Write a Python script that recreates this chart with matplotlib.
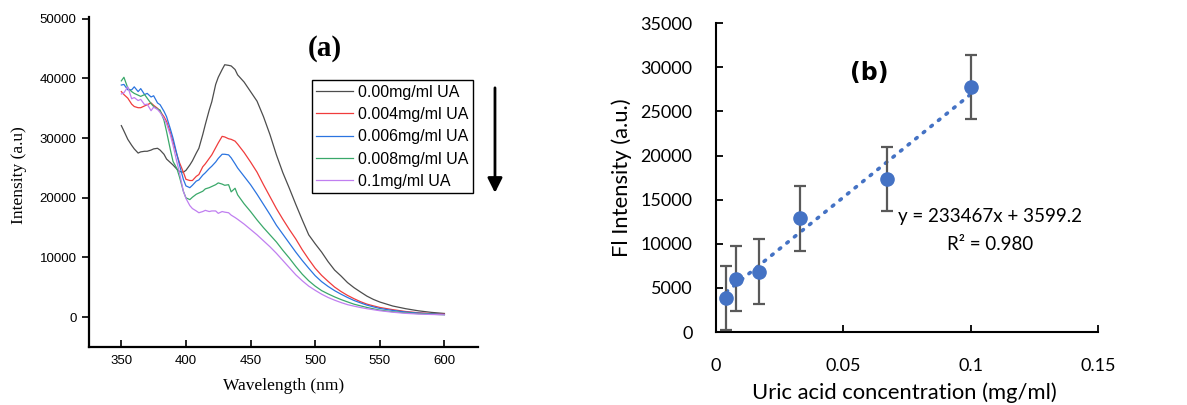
import numpy as np
import matplotlib
matplotlib.use("Agg")
import matplotlib.pyplot as plt

# ---- panel (a): emission spectra ----
wavelength = [350, 352, 355, 358, 360, 363, 365, 368, 370, 373, 375, 378, 380, 383, 385, 388,
              390, 393, 395, 398, 400, 403, 405, 408, 410, 413, 415, 418, 420, 423, 425, 428,
              430, 433, 435, 438, 440, 445, 450, 455, 460, 465, 470, 475, 480, 485, 490, 495,
              500, 505, 510, 515, 520, 525, 530, 535, 540, 545, 550, 560, 570, 580, 590, 600]

ua_000 = [32100, 31200, 29800, 28800, 28200, 27500, 27700, 27800, 27800, 28000, 28200, 28300,
          28000, 27300, 26500, 25900, 25500, 24800, 24400, 24300, 24600, 25500, 26200, 27500,
          28300, 30600, 32300, 34700, 36100, 39000, 40200, 41500, 42300, 42200, 42100, 41500,
          40600, 39400, 37800, 36200, 33600, 30600, 27200, 24200, 21600, 18900, 16300, 13800,
          12300, 10900, 9300, 7900, 6900, 5800, 4950, 4230, 3530, 2980, 2540, 1870, 1420,
          1060, 800, 620]
ua_004 = [37800, 37300, 36700, 35700, 35300, 35100, 35100, 35400, 35600, 35900, 35500, 35000,
          34500, 33600, 32800, 30900, 29400, 27200, 25900, 24300, 23100, 22900, 22900, 23600,
          23900, 25200, 25700, 26600, 27200, 28400, 29200, 30300, 30200, 29900, 29800, 29500,
          29000, 27600, 26000, 24300, 22200, 20200, 18200, 16400, 14700, 13100, 11300, 9700,
          8200, 7000, 6000, 5050, 4300, 3650, 3100, 2600, 2190, 1900, 1630, 1260, 950,
          740, 600, 510]
ua_006 = [38900, 39000, 38100, 38100, 38600, 37800, 38300, 37300, 37500, 36900, 37100, 35900,
          35600, 34500, 33600, 31500, 30000, 27300, 25500, 23100, 22000, 21700, 22100, 22800,
          23000, 23800, 24200, 24900, 25300, 26000, 26600, 27300, 27300, 27200, 26700, 25700,
          25000, 23600, 22200, 20600, 18900, 17200, 15400, 13900, 12400, 10900, 9500, 8200,
          6950, 5950, 5150, 4450, 3850, 3300, 2800, 2400, 2020, 1730, 1460, 1130, 870,
          680, 560, 460]
ua_008 = [39600, 40200, 38400, 37800, 37500, 37200, 37000, 37300, 36700, 35800, 35300, 34900,
          34700, 33000, 31100, 28000, 26100, 24900, 23500, 21100, 20000, 19700, 20100, 20600,
          20800, 21100, 21500, 21700, 21900, 22200, 22500, 22300, 22100, 22200, 21000, 21600,
          20500, 19000, 17700, 16300, 15000, 13800, 12600, 11200, 9900, 8500, 7200, 6100,
          5200, 4450, 3900, 3400, 2950, 2560, 2180, 1900, 1630, 1400, 1180, 910, 720,
          590, 490, 400]
ua_100 = [37400, 37600, 38600, 36600, 36800, 36300, 36500, 35600, 35700, 34600, 35200, 34800,
          34300, 33300, 32400, 30500, 28800, 26000, 24200, 21100, 19900, 18700, 18200, 17800,
          17500, 17700, 17900, 17700, 17800, 17800, 17400, 17700, 17600, 17500, 17100, 16700,
          16400, 15600, 14700, 13800, 12800, 11800, 10700, 9500, 8300, 7100, 6100, 5200,
          4500, 3850, 3300, 2850, 2450, 2100, 1850, 1620, 1420, 1250, 1080, 830, 640,
          520, 450, 400]

spectra = [ua_000, ua_004, ua_006, ua_008, ua_100]
spectra_labels = ["0.00mg/ml UA", "0.004mg/ml UA", "0.006mg/ml UA", "0.008mg/ml UA", "0.1mg/ml UA"]
spectra_colors = ["#4d4d4d", "#f03c3c", "#2b74e0", "#3aa86a", "#c07ff0"]

# ---- panel (b): calibration ----
conc = [0.004, 0.008, 0.0167, 0.033, 0.067, 0.1]
fl_mean = [3870, 6050, 6850, 12870, 17330, 27750]
fl_err = [3650, 3650, 3650, 3650, 3650, 3650]
slope, intercept, r2 = 233467, 3599.2, 0.980

fig = plt.figure(figsize=(11.87, 4.05), dpi=100)

# ---------- (a) ----------
ax1 = fig.add_axes([0.075, 0.1432, 0.3277, 0.8148])
for vals, lab, col in zip(spectra, spectra_labels, spectra_colors):
    ax1.plot(wavelength, vals, color=col, lw=0.9, label=lab)

ax1.set_xlim(325, 626)
ax1.set_ylim(-5000, 50300)
ax1.set_xticks([350, 400, 450, 500, 550, 600])
ax1.set_yticks(np.arange(0, 50001, 10000))
for s in ["top", "right"]:
    ax1.spines[s].set_visible(False)
for s in ["left", "bottom"]:
    ax1.spines[s].set_linewidth(1.6)
ax1.tick_params(axis="y", direction="out", length=5, width=1.2, pad=4, labelsize=9.5)
ax1.tick_params(axis="x", direction="in", length=5, width=1.2, pad=6, labelsize=9.5)
for t in ax1.get_xticklabels() + ax1.get_yticklabels():
    t.set_fontfamily("Liberation Sans")

ax1.set_xlabel("Wavelength (nm)", family="Liberation Serif", fontsize=12.5)
ax1.set_ylabel("Intensity (a.u)", family="Liberation Serif", fontsize=12.5)
ax1.xaxis.set_label_coords(0.5, -0.094)
ax1.yaxis.set_label_coords(-0.16, 0.52)

ax1.text(0.607, 0.905, "(a)", transform=ax1.transAxes, ha="center", va="center",
         family="Liberation Serif", fontweight="bold", fontsize=21)

leg = ax1.legend(loc="upper left", bbox_to_anchor=(0.573, 0.809), frameon=True,
                 fancybox=False, edgecolor="black", framealpha=1,
                 prop={"family": "Liberation Sans", "size": 11.5},
                 handlelength=2.3, handletextpad=0.3, labelspacing=0.46,
                 borderpad=0.28, borderaxespad=0)
leg.get_frame().set_linewidth(1.0)

ax1.annotate("", xy=(0.417, 0.517), xytext=(0.417, 0.79), xycoords="figure fraction",
             textcoords="figure fraction",
             arrowprops=dict(arrowstyle="-|>", lw=2, color="black", mutation_scale=22))

# ---------- (b) ----------
ax2 = fig.add_axes([0.6032, 0.1802, 0.3218, 0.7623])
xfit = np.array([conc[0], conc[-1]])
ax2.plot(xfit, slope * xfit + intercept, color="#4472C4", lw=2.6, linestyle=(0, (0.5, 2.2)),
         dash_capstyle="round", zorder=2)
ax2.errorbar(conc, fl_mean, yerr=fl_err, fmt="o", color="#4472C4", ms=9.5,
             ecolor="#595959", elinewidth=1.6, capsize=4, capthick=1.6, zorder=3)

ax2.set_xlim(0, 0.15)
ax2.set_ylim(0, 35000)
ax2.set_xticks([0, 0.05, 0.1, 0.15])
ax2.set_xticklabels(["0", "0.05", "0.1", "0.15"])
ax2.set_yticks(np.arange(0, 35001, 5000))
for s in ["top", "right"]:
    ax2.spines[s].set_visible(False)
for s in ["left", "bottom"]:
    ax2.spines[s].set_linewidth(1.5)
ax2.tick_params(axis="y", direction="in", length=5, width=1.3, pad=17, labelsize=13)
ax2.tick_params(axis="x", direction="in", length=5, width=1.3, pad=19, labelsize=13)
for t in ax2.get_xticklabels() + ax2.get_yticklabels():
    t.set_fontfamily("Lato")

ax2.set_xlabel("Uric acid concentration (mg/ml)", family="Lato", fontsize=15.8)
ax2.set_ylabel("Fl Intensity (a.u.)", family="Lato", fontsize=15.8)
ax2.xaxis.set_label_coords(0.492, -0.164)
ax2.yaxis.set_label_coords(-0.22, 0.5)

ax2.text(0.1076, 13130, f"y = {slope}x + {intercept}", ha="center", va="center",
         family="Lato", fontsize=13.5)
ax2.text(0.1076, 9950, f"R\u00b2 = {r2:.3f}", ha="center", va="center",
         family="Lato", fontsize=13.5)
ax2.text(0.4, 0.84, "(b)", transform=ax2.transAxes, ha="center", va="center",
         family="DejaVu Sans", fontweight="bold", fontsize=17)

fig.savefig("out.png", dpi=100)
